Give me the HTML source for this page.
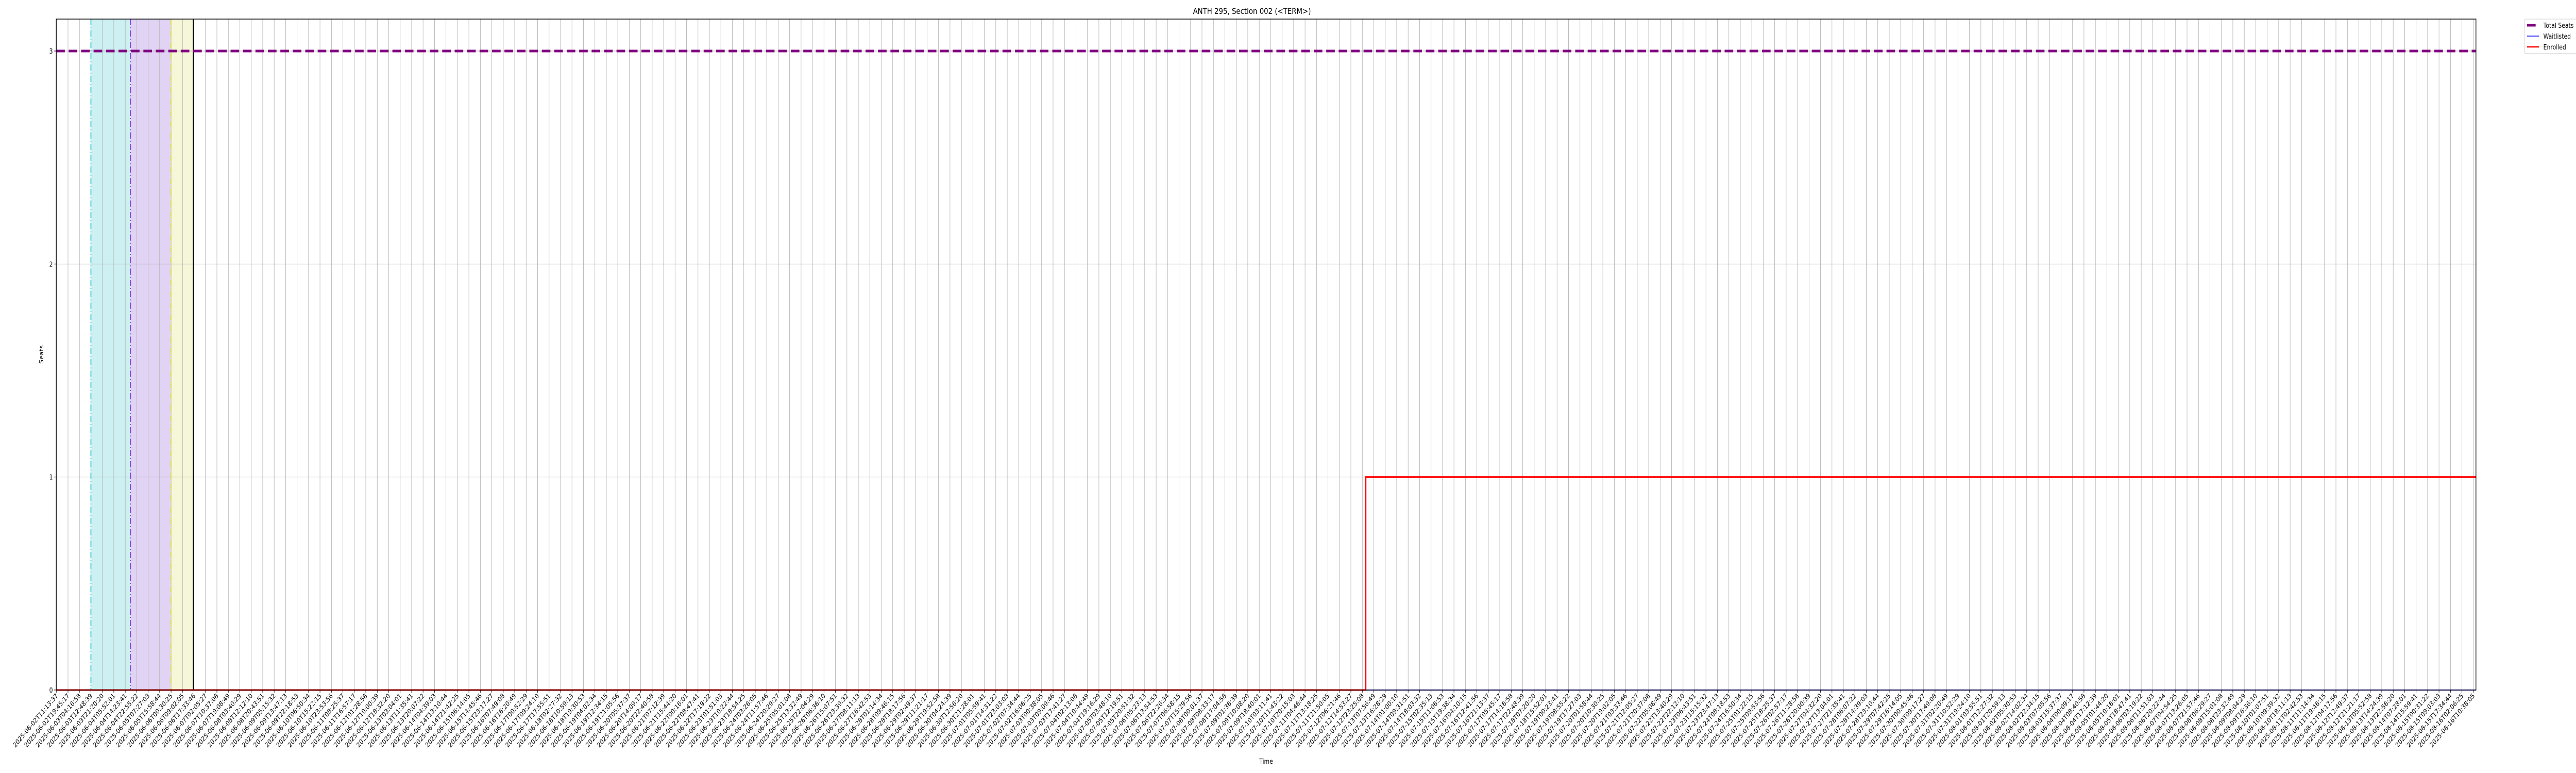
<!DOCTYPE html>
<html><head><meta charset="utf-8"><style>
html,body{margin:0;padding:0;background:#fff;overflow:hidden;width:100%;height:100%}
svg{display:block;font-family:"DejaVu Sans","Liberation Sans",sans-serif;width:100vw;height:100vh}
</style></head><body>
<svg id="chart" viewBox="0 0 6000 1500" preserveAspectRatio="none" xmlns="http://www.w3.org/2000/svg">
<text x="2916" y="27" font-size="16" text-anchor="middle">ANTH 295, Section 002 (&lt;TERM&gt;)</text>
<g id="plot"></g>
<text x="2949" y="1482" font-size="13" text-anchor="middle">Time</text>
<text x="0" y="0" font-size="13" text-anchor="middle" transform="translate(101,688) rotate(-90)">Seats</text>
<g>
<rect x="5880" y="37" width="125" height="67" rx="3" fill="#fff" stroke="#ccc"/>
<line x1="5886" y1="49" x2="5906" y2="49" stroke="#800080" stroke-width="5"/>
<text x="5924" y="54" font-size="13">Total Seats</text>
<line x1="5886" y1="70" x2="5914" y2="70" stroke="#0000ff" stroke-width="1.5"/>
<text x="5924" y="75" font-size="13">Waitlisted</text>
<line x1="5886" y1="91" x2="5914" y2="91" stroke="#ff0000" stroke-width="2.5"/>
<text x="5924" y="96" font-size="13">Enrolled</text>
</g>
</svg>
<script>
// ---- data ----
const startTime = "2025-06-02T11:13:37";
const tickCount = 212;
const tickStepHours = 8.528;
const yTicks = [0, 1, 2, 3];
const totalSeats = [3, 3];
const seriesX = [0, 114.3, 211];
const enrolled = [0, 1, 1];
const waitlisted = [0, 0, 0];
const phaseStarts = [3, 6.46, 9.95];
const phaseEnds = [6.46, 9.95, 11.94];
const phaseFills = ["#cdf0f2", "#e0d3f3", "#f6f6d8"];
const phaseLines = ["#17becf", "#7f3fe0", "#e8e83a"];
const markerIndex = 11.94;

const tickLabels = [];
{
  const t0 = Date.parse(startTime + "Z");
  for (let i = 0; i < tickCount; i++) {
    const d = new Date(t0 + i * tickStepHours * 3600000);
    tickLabels.push(d.toISOString().slice(0, 19));
  }
}

// ---- axes ----
const L = 131, R = 5767, T = 37, B = 1339;
const x0 = 131.7, dx = (5761 - 131.7) / 211;
const xs = i => x0 + i * dx;
const ys = v => 1339 - v * (1339 - 99) / 3;
const NS = "http://www.w3.org/2000/svg";
const g = document.getElementById('plot');
function mk(tag, attrs, parent) {
  const e = document.createElementNS(NS, tag);
  for (const k in attrs) e.setAttribute(k, attrs[k]);
  (parent || g).appendChild(e);
  return e;
}

phaseStarts.forEach((s, i) => {
  const r = mk('rect', {x: xs(s), y: T, width: xs(phaseEnds[i]) - xs(s), height: B - T, fill: phaseFills[i]});
  
  
});
tickLabels.forEach((lab, i) => {
  const l = mk('line', {x1: xs(i), x2: xs(i), y1: T, y2: B, stroke: '#b0b0b0', 'stroke-width': 1});
  
  
});
yTicks.forEach(v => {
  const l = mk('line', {x1: L, x2: R, y1: ys(v), y2: ys(v), stroke: '#b0b0b0', 'stroke-width': 1});
  
  
});
phaseStarts.forEach((s, i) => {
  const l = mk('line', {x1: xs(s), x2: xs(s), y1: T, y2: B, stroke: phaseLines[i], 'stroke-width': 2, 'stroke-dasharray': '12 4 2 4'});
  
  
});
const ml = mk('line', {x1: xs(markerIndex), x2: xs(markerIndex), y1: T, y2: B, stroke: '#000', 'stroke-width': 2.5});



function stepPath(xsArr, vals) {
  let d = 'M' + xs(xsArr[0]) + ',' + ys(vals[0]);
  for (let i = 1; i < xsArr.length; i++) {
    d += ' L' + xs(xsArr[i]) + ',' + ys(vals[i - 1]) + ' L' + xs(xsArr[i]) + ',' + ys(vals[i]);
  }
  d += ' L' + R + ',' + ys(vals[vals.length - 1]);
  return d;
}
const wl = mk('path', {d: stepPath(seriesX, waitlisted), fill: 'none', stroke: '#0000ff', 'stroke-width': 2});


const en = mk('path', {d: stepPath(seriesX, enrolled), fill: 'none', stroke: '#ff0000', 'stroke-width': 3});


const wl2 = mk('line', {x1: xs(seriesX[1]) + 2, x2: R, y1: ys(waitlisted[1]), y2: ys(waitlisted[1]), stroke: '#0000ff', 'stroke-width': 2});


const ts = mk('line', {x1: L, x2: R, y1: ys(totalSeats[0]), y2: ys(totalSeats[1]), stroke: '#800080', 'stroke-width': 5, 'stroke-dasharray': '20 9'});



const fr = mk('rect', {x: L, y: T, width: R - L, height: B - T, fill: 'none', stroke: '#000', 'stroke-width': 1.5});



tickLabels.forEach((lab, i) => {
  const x = xs(i);
  const tk = mk('line', {x1: x, x2: x, y1: B, y2: B + 5, stroke: '#000', 'stroke-width': 1});
  
  
  const t = mk('text', {x: 0, y: 0, 'font-size': 13, 'text-anchor': 'end', transform: `translate(${x + 4},${B + 12}) rotate(-45)`});
  t.textContent = lab;
  
  
});
yTicks.forEach(v => {
  const tk = mk('line', {x1: L - 5, x2: L, y1: ys(v), y2: ys(v), stroke: '#000', 'stroke-width': 1});
  
  
  const t = mk('text', {x: L - 8, y: ys(v) + 5, 'font-size': 13, 'text-anchor': 'end'});
  t.textContent = v;
  
  
});
</script>
</body></html>
